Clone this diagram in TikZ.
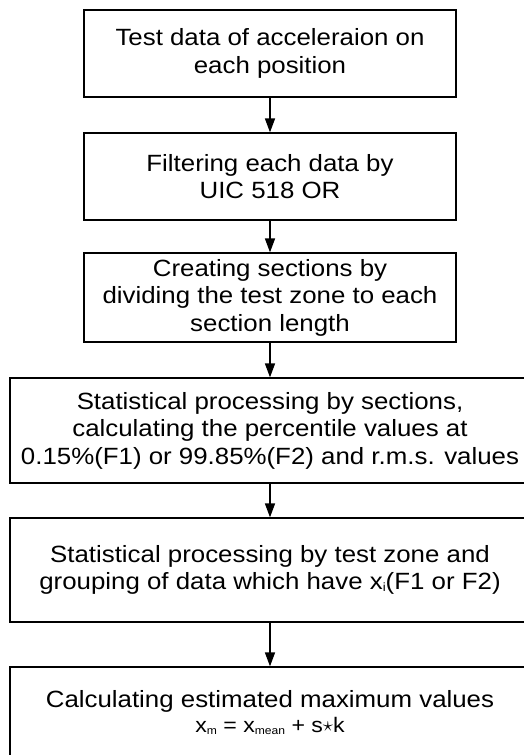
\documentclass[tikz,border=0pt]{standalone}
\usepackage{fontspec}
\setmainfont{Liberation Sans}[FakeStretch=1.1]
\usetikzlibrary{arrows.meta}

\begin{document}
\begin{tikzpicture}[x=1pt,y=-1pt]
   \tikzstyle{stage}=[draw, line width=1.2pt, rectangle, inner sep=2pt, align=center, font=\fontsize{23.5}{27.5}\selectfont]
   \tikzstyle{narrow}=[stage, minimum width=372pt, minimum height=87pt]
   \tikzstyle{wide}=[stage, minimum width=520pt, minimum height=104pt]
   \tikzstyle{flow}=[line width=1.5pt, -{Triangle[length=14pt,width=10pt]}]
   \useasboundingbox (0,0) rectangle (524,755);

\node[narrow] (test) at (270,53.5) {Test data of acceleraion on\\each position};
\node[narrow] (filter) at (270,176.5) {Filtering each data by\\UIC 518 OR};
\node[narrow, minimum height=89pt] (sections) at (270,297.5) {Creating sections by\\dividing the test zone to each\\section length};
\node[wide, minimum height=105pt] (percentile) at (270,430.5) {Statistical processing by sections,\\calculating the percentile values at\\0.15\%(F1) or 99.85\%(F2) and r.m.s. values};
\node[wide] (grouping) at (270,570) {Statistical processing by test zone and\\grouping of data which have x{\fontsize{12}{12}\selectfont\raisebox{-2pt}{i}}(F1 or F2)};
\node[wide, minimum height=91pt] (maximum) at (270,712.5) {Calculating estimated maximum values\\[-2pt]{\fontsize{21}{21}\selectfont x{\fontsize{11}{11}\selectfont\raisebox{-2pt}{m}} = x{\fontsize{11}{11}\selectfont\raisebox{-2pt}{mean}} + s\raisebox{1pt}{$\star$}k}};

\draw[flow] (test) -- (filter);
\draw[flow] (filter) -- (sections);
\draw[flow] (sections) -- (percentile);
\draw[flow] (percentile) -- (grouping);
\draw[flow] (grouping) -- (maximum);

\end{tikzpicture}
\end{document}
